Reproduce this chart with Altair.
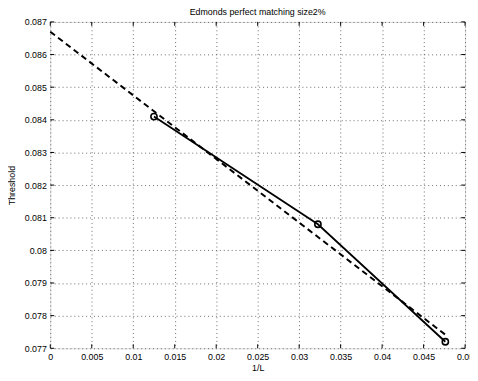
import altair as alt
import pandas as pd

# data
inv_L = [0.0125, 0.03226, 0.04762]
threshold = [0.0841, 0.0808, 0.0772]
fit_x = [0.0, 0.0476]
fit_y = [0.0867, 0.07742]
x_ticks = [round(i * 0.005, 3) for i in range(11)]
y_ticks = [round(0.077 + i * 0.001, 3) for i in range(11)]

W, H = 422, 332
TL = 4
FONT = "Liberation Sans"

xs = alt.Scale(domain=[0, 0.05], nice=False, zero=False)
ys = alt.Scale(domain=[0.077, 0.087], nice=False, zero=False)

x_axis = alt.Axis(values=x_ticks, format="~g", title="1/L", grid=True,
                  gridDash=[1, 3], gridColor="#444", gridWidth=0.8,
                  domain=False, ticks=False, labelPadding=4, labelFontSize=9,
                  titleFontSize=9, titlePadding=3, titleFontWeight="normal",
                  labelColor="black", titleColor="black", labelFlush=False)
y_axis = alt.Axis(values=y_ticks, format="~g", title="Threshold", grid=True,
                  gridDash=[1, 3], gridColor="#444", gridWidth=0.8,
                  domain=False, ticks=False, labelPadding=4, labelFontSize=9,
                  titleFontSize=9, titlePadding=8, titleFontWeight="normal",
                  labelColor="black", titleColor="black", labelFlush=False)

X = alt.X("x:Q", scale=xs, axis=x_axis)
Y = alt.Y("y:Q", scale=ys, axis=y_axis)

pts = pd.DataFrame({"x": inv_L, "y": threshold})
fit = pd.DataFrame({"x": fit_x, "y": fit_y})
xt = pd.DataFrame({"x": x_ticks})
yt = pd.DataFrame({"y": y_ticks})

fit_line = alt.Chart(fit).mark_line(color="black", strokeWidth=2, strokeDash=[6, 4]).encode(x=X, y=Y)
data_line = alt.Chart(pts).mark_line(color="black", strokeWidth=1.8).encode(x=X, y=Y)
data_pts = alt.Chart(pts).mark_point(shape="circle", size=40, color="black",
                                     strokeWidth=1.6, filled=False, opacity=1).encode(x=X, y=Y)

xt_bot = alt.Chart(xt).mark_rule(color="black", strokeWidth=1).encode(
    x=X, y=alt.value(H), y2=alt.value(H - TL))
xt_top = alt.Chart(xt).mark_rule(color="black", strokeWidth=1).encode(
    x=X, y=alt.value(0), y2=alt.value(TL))
yt_left = alt.Chart(yt).mark_rule(color="black", strokeWidth=1).encode(
    y=Y, x=alt.value(0), x2=alt.value(TL))
yt_right = alt.Chart(yt).mark_rule(color="black", strokeWidth=1).encode(
    y=Y, x=alt.value(W - TL), x2=alt.value(W))

chart = alt.layer(fit_line, data_line, data_pts, xt_bot, xt_top, yt_left, yt_right).properties(
    width=W, height=H,
    title=alt.TitleParams("Edmonds perfect matching size2%", fontSize=9,
                          fontWeight="normal", offset=1, font=FONT, color="black"),
    autosize=alt.AutoSizeParams(type="none"),
    padding={"left": 43, "top": 11, "right": 5, "bottom": 22},
).configure_view(stroke="black", strokeWidth=1.2).configure_axis(
    labelFont=FONT, titleFont=FONT
).configure(background="white")

chart.save("out.html", embed_options={"renderer": "svg", "actions": False})
